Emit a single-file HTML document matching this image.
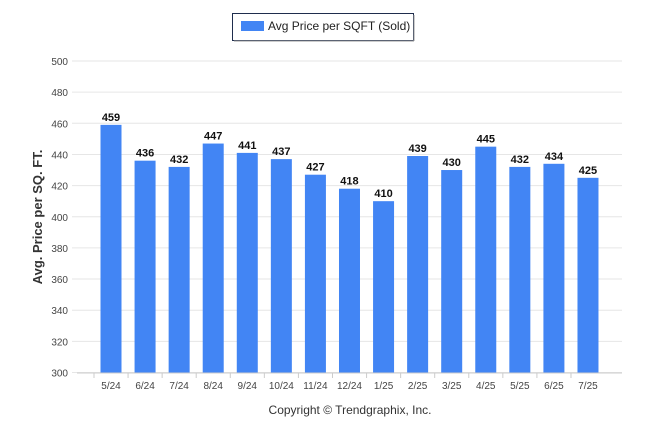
<!DOCTYPE html>
<html><head><meta charset="utf-8"><style>
body{margin:0;background:#fff;}
svg{display:block;font-family:"Liberation Sans",sans-serif;}
</style></head><body>
<svg width="646" height="434">
<g>
<rect x="232.5" y="13.5" width="181" height="27" fill="#fff" stroke="#1f2d4d" stroke-width="1"/>
<line x1="234" y1="41" x2="414" y2="41" stroke="#999" stroke-width="1"/>
<line x1="414" y1="15" x2="414" y2="41" stroke="#999" stroke-width="1"/>
<rect x="241" y="21" width="23" height="10" fill="#4285f4"/>
<text x="268" y="30" font-size="12" fill="#222">Avg Price per SQFT (Sold)</text>
</g>
<text transform="translate(42,217) rotate(-90)" text-anchor="middle" font-size="13" font-weight="bold" fill="#333">Avg. Price per SQ. FT.</text>
<g id="grid"></g><g id="bars"></g><g id="xl"></g>
<text x="350" y="414" text-anchor="middle" font-size="12" fill="#333">Copyright © Trendgraphix, Inc.</text>
</svg>
<script>
const categories=["5/24","6/24","7/24","8/24","9/24","10/24","11/24","12/24","1/25","2/25","3/25","4/25","5/25","6/25","7/25"];
const values=[459,436,432,447,441,437,427,418,410,439,430,445,432,434,425];
const yTicks=[300,320,340,360,380,400,420,440,460,480,500];
const NS="http://www.w3.org/2000/svg";
const y=v=>372.5-(v-300)*1.5575;
const x=i=>111+i*34.07;
function mk(t,a,p){const e=document.createElementNS(NS,t);for(const k in a)e.setAttribute(k,a[k]);p.appendChild(e);return e;}
const g=document.getElementById('grid'),b=document.getElementById('bars'),xl=document.getElementById('xl');
yTicks.forEach(v=>{
const l=mk('line',{x1:72,x2:622,y1:y(v),y2:y(v),stroke:'#e6e6e6','stroke-width':1},g);


const t=mk('text',{x:68,y:y(v)+4,'text-anchor':'end','font-size':10,fill:'#444'},g);
t.textContent=v;


});
const ax=mk('line',{x1:77,x2:622,y1:373,y2:373,stroke:'#ccc'},g);


categories.forEach((c,i)=>{
const r=mk('rect',{x:x(i)-10.5,y:y(values[i]),width:21,height:372.5-y(values[i]),fill:'#4285f4'},b);


const t=mk('text',{x:x(i),y:y(values[i])-4,'text-anchor':'middle','font-size':11,'font-weight':'bold',fill:'#111'},b);
t.textContent=values[i];


const tk=mk('line',{x1:x(i)-17,x2:x(i)-17,y1:373,y2:378,stroke:'#ccc'},xl);


const xt=mk('text',{x:x(i),y:389,'text-anchor':'middle','font-size':10,fill:'#444'},xl);
xt.textContent=c;


});
</script>
</body></html>
